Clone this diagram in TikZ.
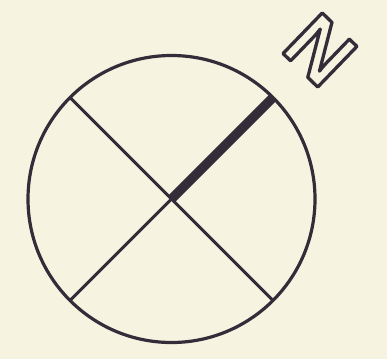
\documentclass[tikz,border=0pt]{standalone}
\usepackage{fontspec}
\newfontfamily\nfont{Liberation Sans}
\definecolor{paper}{RGB}{247,243,225}
\definecolor{ink}{RGB}{50,45,56}
\tikzset{
  ringstyle/.style={circle, draw=ink, line width=3.2pt, inner sep=0pt, outer sep=0pt, minimum size=287pt},
  spoke/.style={draw=ink, line width=3pt, line cap=butt},
  northbar/.style={draw=ink, line width=9.5pt, line cap=butt},
  outlined/.style={text=ink, inner sep=0pt, outer sep=0pt, font=\nfont\bfseries\fontsize{82}{82}\selectfont}
}
\begin{document}
\begin{tikzpicture}[x=1pt,y=-1pt]
  \fill[paper] (0,0) rectangle (387,359);
  \useasboundingbox (0,0) rectangle (387,359);
  \node[ringstyle] (ring) at (171.5,199) {};
  \coordinate (hub) at (ring.center);
  \draw[spoke] (ring.135) -- (ring.315);
  \draw[spoke] (ring.225) -- (ring.45);
  \draw[northbar] (hub) -- (ring.45);
  \node[outlined, rotate=-44] (north) at (320,50) {\special{pdf:literal direct 1 Tr 3.3 w 1 j}N\special{pdf:literal direct 0 Tr}};
\end{tikzpicture}
\end{document}
